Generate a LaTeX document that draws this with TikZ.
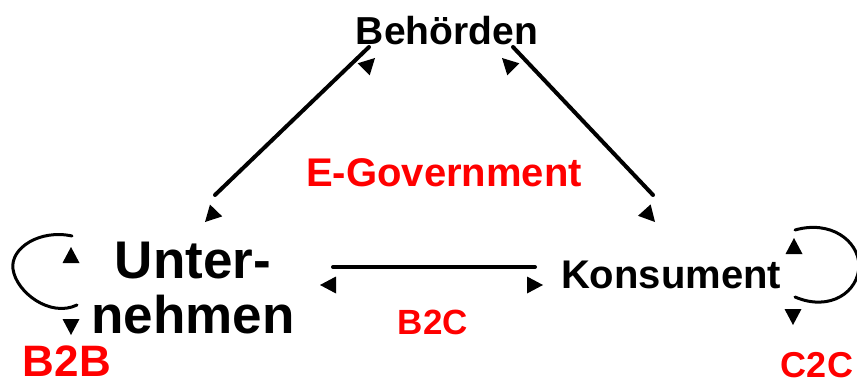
\documentclass[tikz,border=0pt]{standalone}
\usepackage{fontspec}
\setmainfont{Liberation Sans}
\begin{document}
\begin{tikzpicture}[x=1pt,y=-1pt,
  label/.style={font=\bfseries, inner sep=0pt, anchor=base},
  redlabel/.style={label, text=red},
  link/.style={line width=4pt, line cap=round},
  loopline/.style={line width=3pt, line cap=round},
  tip/.pic={\fill[black] (0,0) -- (-16,8.5) -- (-16,-8.5) -- cycle;}]
\useasboundingbox (0,0) rectangle (857,385);
\fill[white] (0,0) rectangle (857,385);

% actors
\node[label, font=\bfseries\fontsize{39}{39}\selectfont] (beh) at (447,45) {Behörden};
\node[label, font=\bfseries\fontsize{40}{40}\selectfont] (kon) at (671,288) {Konsument};
\node[label, font=\bfseries\fontsize{53}{55}\selectfont, align=center] (unt) at (193,333) {Unter-\\nehmen};

% relation labels
\node[redlabel, font=\bfseries\fontsize{40}{40}\selectfont] (egov) at (444,186) {E-Government};
\node[redlabel, font=\bfseries\fontsize{35}{35}\selectfont] (b2c) at (433,334) {B2C};
\node[redlabel, font=\bfseries\fontsize{44}{44}\selectfont] (b2b) at (67,376) {B2B};
\node[redlabel, font=\bfseries\fontsize{36}{36}\selectfont] (c2c) at (817,377) {C2C};

% connector end points
\coordinate (ul) at (215,195);
\coordinate (bl) at (369,47);
\coordinate (br) at (513,47);
\coordinate (kr) at (653,195);
\coordinate (hl) at (333,267);
\coordinate (hr) at (535,267);

\draw[link] (ul) -- (bl);
\draw[link] (br) -- (kr);
\draw[link] (hl) -- (hr);

% arrow heads
\pic[rotate=45] at (375,58) {tip};
\pic[rotate=226] at (205,222) {tip};
\pic[rotate=135] at (502,58) {tip};
\pic[rotate=-48] at (655,222) {tip};
\pic[rotate=180] at (320,285) {tip};
\pic[rotate=0] at (543,285) {tip};

% self loops
\coordinate (la) at (72,236);
\coordinate (lb) at (77,305);
\draw[loopline] (la) .. controls (40,229) and (10,248) .. (13,269)
  .. controls (16,292) and (50,318) .. (lb);
\pic[rotate=90] at (71,247) {tip};
\pic[rotate=-90] at (71,335) {tip};

\coordinate (ra) at (795,230);
\coordinate (rb) at (795,297);
\draw[loopline] (ra) .. controls (830,220) and (858,240) .. (859,265)
  .. controls (859,292) and (830,312) .. (rb);
\pic[rotate=90] at (794,238) {tip};
\pic[rotate=-90] at (793,325) {tip};
\end{tikzpicture}
\end{document}
